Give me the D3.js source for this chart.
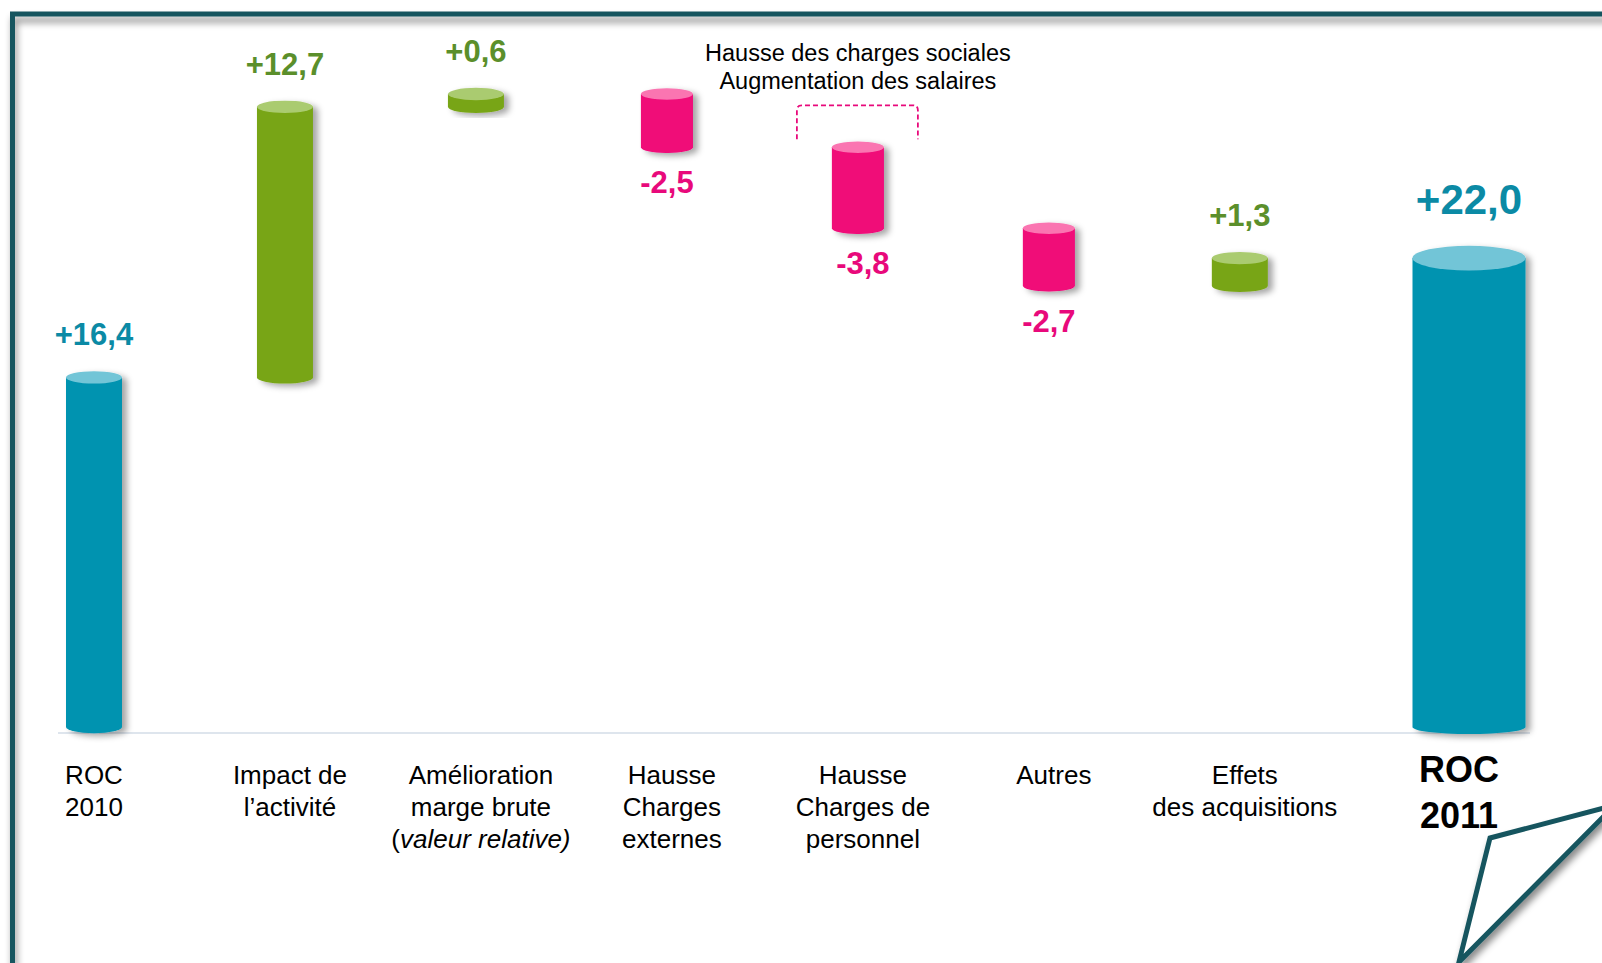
<!DOCTYPE html>
<html>
<head>
<meta charset="utf-8">
<script src="https://cdn.jsdelivr.net/npm/d3@7"></script>
<style>
  html, body { margin: 0; padding: 0; background: #fff; }
  svg { display: block; font-family: "Liberation Sans", Arial, sans-serif; }
</style>
</head>
<body>
<svg width="1602" height="963"></svg>
<script>
// chart data
const categories = [
  ['ROC', '2010'],
  ['Impact de', 'l’activité'],
  ['Amélioration', 'marge brute', '(valeur relative)'],
  ['Hausse', 'Charges', 'externes'],
  ['Hausse', 'Charges de', 'personnel'],
  ['Autres'],
  ['Effets', 'des acquisitions'],
  ['ROC', '2011']
];
const values = [16.4, 12.7, 0.6, -2.5, -3.8, -2.7, 1.3, 22.0];
const kinds = ['total', 'delta', 'delta', 'delta', 'delta', 'delta', 'delta', 'total'];
const annotationLines = ['Hausse des charges sociales', 'Augmentation des salaires'];
const annotationIndex = 4;

const colors = {
  total: { body: '#0593b0', top: '#72c5d7', label: '#0b8aa5' },
  up:    { body: '#78a515', top: '#aacb6f', label: '#5b8f2b' },
  down:  { body: '#f00778', top: '#fa74b1', label: '#e8097b' }
};
const frameColor = '#15555f';

const fr = d3.formatLocale({ decimal: ',', thousands: ' ', grouping: [3], currency: ['', ' €'], minus: '-' });
const fmt = fr.format('+.1f');

// waterfall steps
let cum = 0;
const bars = values.map((v, i) => {
  let start, end;
  if (kinds[i] === 'total') { start = 0; end = v; cum = v; }
  else { start = cum; end = cum + v; cum = end; }
  return { i, v, start, end, kind: kinds[i], lines: categories[i] };
});

const svg = d3.select('svg');

const defs = svg.append('defs');
const sh = defs.append('filter').attr('id', 'shadow')
  .attr('x', '-30%').attr('y', '-10%').attr('width', '160%').attr('height', '130%');
sh.append('feDropShadow').attr('dx', 5).attr('dy', 3).attr('stdDeviation', 3)
  .attr('flood-color', '#000').attr('flood-opacity', 0.35);
const fsh = defs.append('filter').attr('id', 'frameShadow')
  .attr('x', '-5%').attr('y', '-5%').attr('width', '110%').attr('height', '110%');
fsh.append('feDropShadow').attr('dx', 2).attr('dy', 6).attr('stdDeviation', 3.5)
  .attr('flood-color', '#000').attr('flood-opacity', 0.45);

// frame
svg.append('path')
  .attr('d', 'M12.5,980 L12.5,14 L1620,14')
  .attr('fill', 'none')
  .attr('stroke', frameColor)
  .attr('stroke-width', 5)
  .attr('filter', 'url(#frameShadow)');

// scales
const x = d3.scaleLinear().domain([0, 7.2]).range([94, 1469]);
const slot = i => (i === 7 ? 7.2 : i);
const y = d3.scaleLinear().domain([0, 29.7]).range([727, 94]);

// baseline
svg.append('line')
  .attr('x1', 58).attr('x2', 1530)
  .attr('y1', 733).attr('y2', 733)
  .attr('stroke', '#d3dde7').attr('stroke-width', 1.5);

const colorOf = d => d.kind === 'total' ? colors.total : (d.v >= 0 ? colors.up : colors.down);
const widthOf = d => d.i === 7 ? 113 : (d.v < 0 ? 52 : 56);

const bar = svg.append('g').selectAll('g')
  .data(bars)
  .join('g')
  .attr('filter', 'url(#shadow)');

bar.each(function (d) {
  const g = d3.select(this);
  const w = widthOf(d);
  const rx = w / 2;
  const ry = w * 0.11;
  const ryB = Math.min(ry, 7);
  const cx = x(slot(d.i));
  const yt = y(Math.max(d.start, d.end));
  const yb = y(Math.min(d.start, d.end));
  const c = colorOf(d);
  g.append('path')
    .attr('d', `M${cx - rx},${yt} L${cx - rx},${yb} A${rx},${ryB} 0 0 0 ${cx + rx},${yb} L${cx + rx},${yt} Z`)
    .attr('fill', c.body);
  g.append('ellipse')
    .attr('cx', cx).attr('cy', yt)
    .attr('rx', rx).attr('ry', ry)
    .attr('fill', c.top);
});

// value labels
svg.append('g').selectAll('text')
  .data(bars)
  .join('text')
  .attr('x', d => x(slot(d.i)) + (d.i === 4 ? 5 : 0))
  .attr('y', d => {
    if (d.i === 7) return y(d.end) - 44;
    if (d.v >= 0) return y(Math.max(d.start, d.end)) - 32;
    return y(Math.min(d.start, d.end)) + 46;
  })
  .attr('text-anchor', 'middle')
  .attr('font-weight', 'bold')
  .attr('font-size', d => d.i === 7 ? 42 : 31)
  .attr('fill', d => colorOf(d).label)
  .text(d => fmt(d.v));

// category labels
const cat = svg.append('g').selectAll('text')
  .data(bars)
  .join('text')
  .attr('x', d => x(slot(d.i)) + (d.i === 7 ? -10 : (d.i === 0 ? 0 : 5)))
  .attr('y', d => d.i === 7 ? 782 : 784)
  .attr('text-anchor', 'middle')
  .attr('font-size', d => d.i === 7 ? 36 : 26)
  .attr('font-weight', d => d.i === 7 ? 'bold' : 'normal')
  .attr('fill', '#000');

cat.each(function (d) {
  const t = d3.select(this);
  const lh = d.i === 7 ? 46 : 32;
  d.lines.forEach((line, k) => {
    if (line.startsWith('(')) {
      t.append('tspan').attr('x', t.attr('x')).attr('dy', k === 0 ? 0 : lh).text('(');
      t.append('tspan').attr('font-style', 'italic').text(line.slice(1));
    } else {
      t.append('tspan').attr('x', t.attr('x')).attr('dy', k === 0 ? 0 : lh).text(line);
    }
  });
});

// annotation above "Charges de personnel"
const ad = bars[annotationIndex];
const acx = x(slot(ad.i));
const atop = y(Math.max(ad.start, ad.end));
const ann = svg.append('text')
  .attr('x', acx)
  .attr('y', 61)
  .attr('text-anchor', 'middle')
  .attr('font-size', 23.5)
  .attr('fill', '#000');
annotationLines.forEach((l, k) => {
  ann.append('tspan').attr('x', acx).attr('dy', k === 0 ? 0 : 28).text(l);
});

const bx0 = acx - 61, bx1 = acx + 60;
const by0 = atop - 42, by1 = atop - 8;
svg.append('path')
  .attr('d', `M${bx0},${by1} L${bx0},${by0 + 5} Q${bx0},${by0} ${bx0 + 5},${by0} L${bx1 - 5},${by0} Q${bx1},${by0} ${bx1},${by0 + 5} L${bx1},${by1}`)
  .attr('fill', 'none')
  .attr('stroke', colors.down.label)
  .attr('stroke-width', 1.8)
  .attr('stroke-dasharray', '5,3');

// page curl at bottom right
svg.append('path')
  .attr('d', 'M1490,838 L1615,805 L1459,962 Z')
  .attr('fill', '#fff')
  .attr('stroke', frameColor)
  .attr('stroke-width', 5)
  .attr('stroke-linejoin', 'miter')
  .attr('filter', 'url(#frameShadow)');
</script>
</body>
</html>
